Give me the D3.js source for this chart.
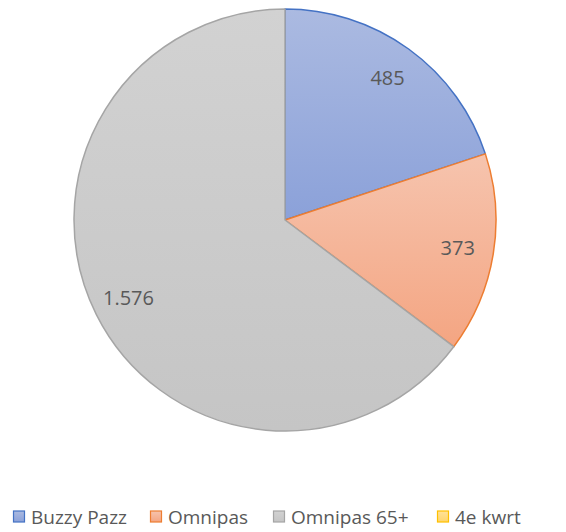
<!doctype html>
<html lang="nl">
<head>
  <meta charset="UTF-8">
  <title>Pie</title>
  <script src="https://cdn.jsdelivr.net/npm/d3@7"></script>
</head>
<body style="margin:0; background:#fff">
<div id="container"></div>
<script type="text/javascript">
var categories = ['Buzzy Pazz', 'Omnipas', 'Omnipas 65+', '4e kwrt'];
var values = [485, 373, 1576, 0];
var labels = ['485', '373', '1.576', ''];

var strokes = ['#4472C4', '#ED7D31', '#A5A5A5', '#FFC000'];
var topColors = ['#ABBAE1', '#F6C4AE', '#D2D2D2', '#FFE29A'];
var bottomColors = ['#8BA1D9', '#F4A582', '#C5C5C5', '#FFD56A'];

var width = 566, height = 532;
var cx = 285, cy = 220, r = 211;

var svg = d3.select('#container').append('svg')
  .attr('width', width)
  .attr('height', height);

var defs = svg.append('defs');
categories.forEach(function(c, i) {
  var g = defs.append('linearGradient')
    .attr('id', 'grad' + i)
    .attr('x1', 0).attr('y1', 0).attr('x2', 0).attr('y2', 1);
  g.append('stop').attr('offset', '0%').attr('stop-color', topColors[i]);
  g.append('stop').attr('offset', '100%').attr('stop-color', bottomColors[i]);
});

var data = categories.map(function(c, i) { return {name: c, value: values[i], i: i}; });

var pie = d3.pie().sort(null).value(function(d) { return d.value; });
var arc = d3.arc().innerRadius(0).outerRadius(r);
var labelArc = d3.arc().innerRadius(175).outerRadius(175);

var g = svg.append('g').attr('transform', 'translate(' + cx + ',' + cy + ')');

var arcs = pie(data).filter(function(d) { return d.data.value > 0; });

g.selectAll('path.slice').data(arcs).enter()
  .append('path')
  .attr('class', 'slice')
  .attr('d', arc)
  .attr('fill', function(d) { return 'url(#grad' + d.data.i + ')'; })
  .attr('stroke', function(d) { return strokes[d.data.i]; })
  .attr('stroke-width', 1.5)
  .attr('stroke-linejoin', 'round');

g.selectAll('text.lbl').data(arcs).enter()
  .append('text')
  .attr('class', 'lbl')
  .attr('transform', function(d) { return 'translate(' + labelArc.centroid(d) + ')'; })
  .attr('text-anchor', 'middle')
  .attr('dy', '0.35em')
  .style('font-family', '"Open Sans", "Liberation Sans", sans-serif')
  .style('font-size', '20px')
  .attr('fill', '#595959')
  .text(function(d) { return labels[d.data.i]; });

// legend
var legendX = [13, 150, 273, 437];
var legend = svg.append('g').attr('class', 'legend');
var items = legend.selectAll('g').data(data).enter()
  .append('g')
  .attr('transform', function(d, i) { return 'translate(' + legendX[i] + ',517)'; });

items.append('rect')
  .attr('x', 0.5).attr('y', -6)
  .attr('width', 11).attr('height', 11)
  .attr('fill', function(d) { return 'url(#grad' + d.i + ')'; })
  .attr('stroke', function(d) { return strokes[d.i]; })
  .attr('stroke-width', 1.2);

items.append('text')
  .attr('x', 18)
  .attr('dy', '0.35em')
  .style('font-family', '"Open Sans", "Liberation Sans", sans-serif')
  .style('font-size', '19px')
  .attr('fill', '#595959')
  .text(function(d) { return d.name; });
</script>
</body>
</html>
